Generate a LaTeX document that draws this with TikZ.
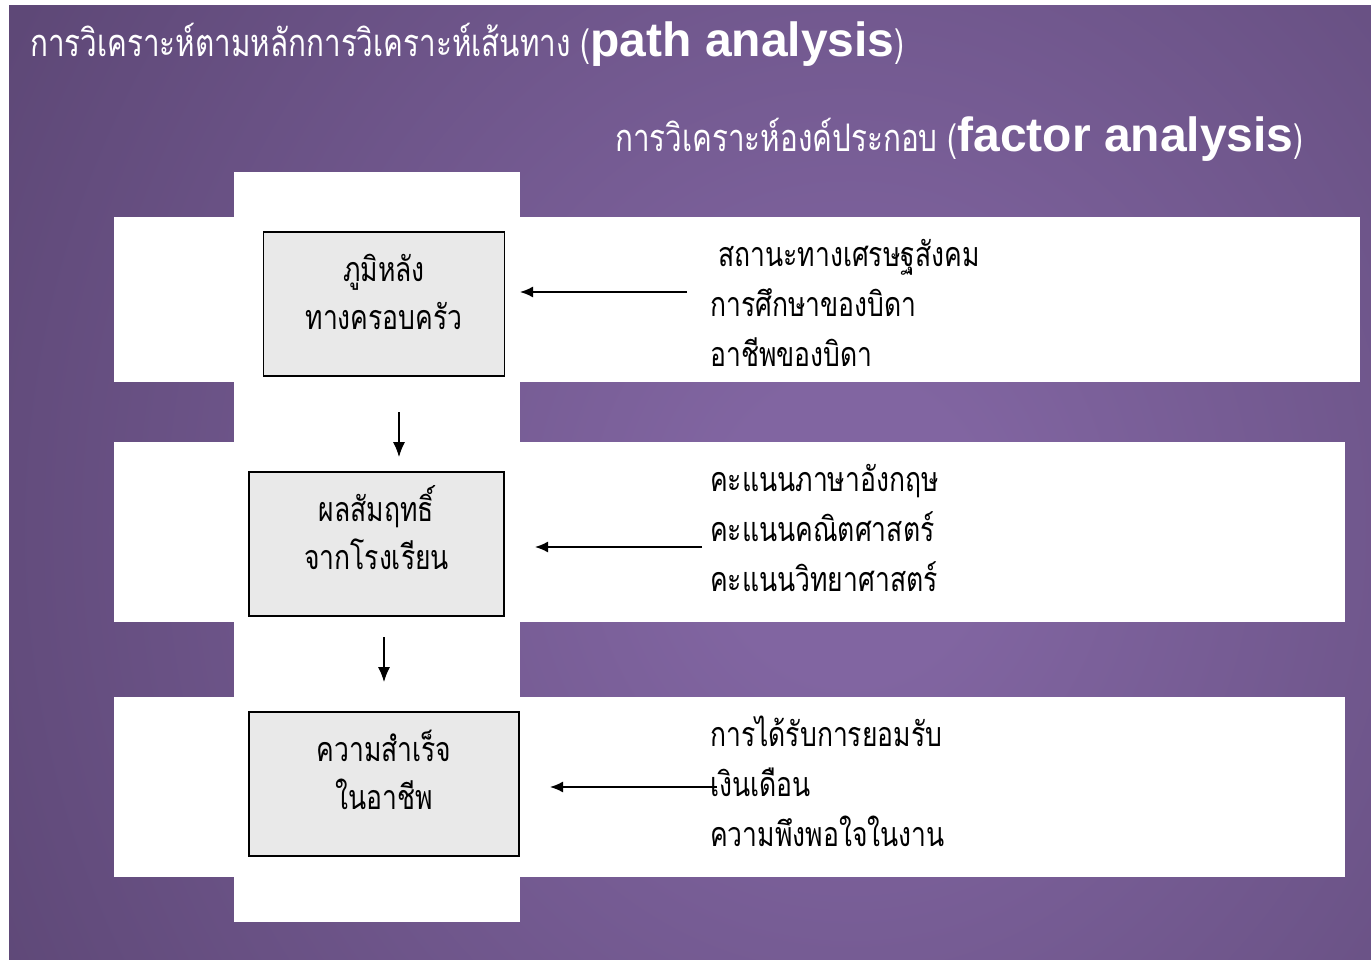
\documentclass[tikz,border=0pt]{standalone}
\usepackage{fontspec}
\newfontfamily\thai[Script=Thai,FakeStretch=0.78]{Loma}
\newfontfamily\lsans{Liberation Sans}
\usetikzlibrary{arrows.meta}
\definecolor{glowin}{RGB}{129,101,161}
\definecolor{glowout}{RGB}{94,72,119}
\definecolor{boxgray}{RGB}{233,233,233}
\pgfdeclareradialshading{bgglow}{\pgfpoint{0bp}{0bp}}{color(0bp)=(glowin); color(4bp)=(glowin); color(28bp)=(glowout); color(72bp)=(glowout)}
\tikzset{
  panel/.style={fill=white},
  factorbox/.style={draw=black, line width=1.6pt, fill=boxgray, inner sep=0pt, minimum height=144},
  boxtext/.style={anchor=base, inner sep=0pt, font=\thai\fontsize{34}{40}\selectfont},
  itemtext/.style={anchor=base west, inner sep=0pt, font=\thai\fontsize{34}{40}\selectfont},
  leftarrow/.style={line width=1.6pt, -{Latex[length=13pt,width=11pt]}},
  downarrow/.style={line width=1.1pt, -{Latex[length=15pt,width=12pt]}},
  titletext/.style={anchor=base west, inner sep=0pt, text=white}
}
\newcommand{\thaititle}{\thai\fontsize{38}{40}\selectfont}
\newcommand{\latintitle}{\lsans\bfseries\fontsize{48}{50}\selectfont}
\begin{document}
\begin{tikzpicture}[x=1pt,y=-1pt]
\useasboundingbox (0,0) rectangle (1371,960);
\fill[white] (0,0) rectangle (1371,960);
% purple backdrop with a soft glow centred to the right of the middle
\begin{scope}
  \clip (9,6) rectangle (1371,960);
  \shade[shading=bgglow] (0,-400) rectangle (1700,1460);
\end{scope}
% white panels
\fill[panel] (234,172) rectangle (520,922);
\fill[panel] (114,217) rectangle (1360,382);
\fill[panel] (114,442) rectangle (1345,622);
\fill[panel] (114,697) rectangle (1345,877);

% titles
\node[titletext] (title1) at (30,57) {{\thaititle การวิเคราะห์ตามหลักการวิเคราะห์เส้นทาง (}{\latintitle path analysis}{\thaititle )}};
\node[titletext] (title2) at (615,152) {{\thaititle การวิเคราะห์องค์ประกอบ (}{\latintitle factor analysis}{\thaititle )}};

% path boxes
\node[factorbox, minimum width=241] (family) at (384,304) {};
\node[factorbox, minimum width=255] (school) at (376.5,544) {};
\node[factorbox, minimum width=270] (career) at (384,784) {};
\node[boxtext] (familytxt1) at (384,281) {ภูมิหลัง};
\node[boxtext] (familytxt2) at (384,329) {ทางครอบครัว};
\node[boxtext] (schooltxt1) at (376.5,521) {ผลสัมฤทธิ์};
\node[boxtext] (schooltxt2) at (376.5,569) {จากโรงเรียน};
\node[boxtext] (careertxt1) at (384,761) {ความสำเร็จ};
\node[boxtext] (careertxt2) at (384,809) {ในอาชีพ};

% indicator lists
\node[itemtext] (f1) at (718,266) {สถานะทางเศรษฐสังคม};
\node[itemtext] (f2) at (710,316) {การศึกษาของบิดา};
\node[itemtext] (f3) at (710,366) {อาชีพของบิดา};
\node[itemtext] (s1) at (710,491) {คะแนนภาษาอังกฤษ};
\node[itemtext] (s2) at (710,541) {คะแนนคณิตศาสตร์};
\node[itemtext] (s3) at (710,591) {คะแนนวิทยาศาสตร์};
\node[itemtext] (c1) at (710,746) {การได้รับการยอมรับ};
\node[itemtext] (c2) at (710,796) {เงินเดือน};
\node[itemtext] (c3) at (710,846) {ความพึงพอใจในงาน};

% connector end points
\coordinate (fa) at (687,292);
\coordinate (fb) at (520,292);
\coordinate (sa) at (702,547);
\coordinate (sb) at (535,547);
\coordinate (ca) at (717,787);
\coordinate (cb) at (550,787);
\coordinate (d1a) at (399,412);
\coordinate (d1b) at (399,457);
\coordinate (d2a) at (384,637);
\coordinate (d2b) at (384,682);

\draw[leftarrow] (fa) -- (fb);
\draw[leftarrow] (sa) -- (sb);
\draw[leftarrow] (ca) -- (cb);
\draw[downarrow] (d1a) -- (d1b);
\draw[downarrow] (d2a) -- (d2b);
\end{tikzpicture}
\end{document}
